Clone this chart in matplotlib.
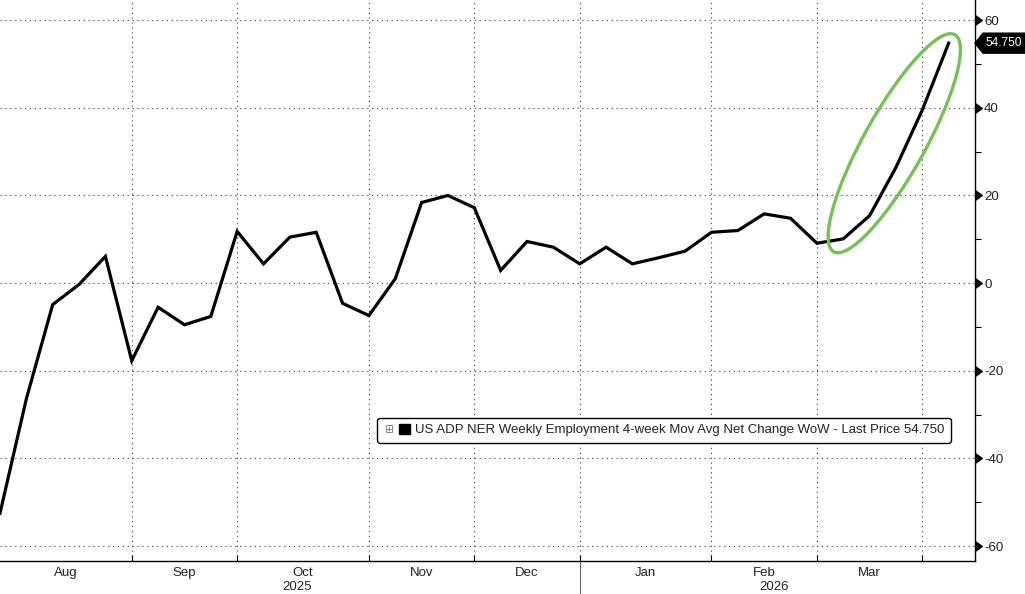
import numpy as np
import pandas as pd
import matplotlib
matplotlib.use("Agg")
import matplotlib.pyplot as plt
import matplotlib.dates as mdates
import matplotlib.markers as mmarkers
from matplotlib import font_manager
from matplotlib.patches import Ellipse, Rectangle, Polygon
from matplotlib.lines import Line2D
from matplotlib.legend_handler import HandlerBase
from matplotlib.transforms import IdentityTransform

# weekly US ADP NER, 4-week moving average net change (thousands)
start_date = "2025-08-01"
values = [-52.5, -26.4, -4.9, -0.3, 6.1, -17.7, -5.5, -9.5, -7.6, 11.8,
          4.4, 10.5, 11.6, -4.6, -7.4, 1.0, 18.4, 20.0, 17.2, 2.9,
          9.5, 8.2, 4.4, 8.2, 4.4, 5.8, 7.3, 11.6, 12.0, 15.8,
          14.8, 9.1, 10.1, 15.4, 26.4, 39.5, 54.75]
y_ticks = [-60, -40, -20, 0, 20, 40, 60]
series_label = "US ADP NER Weekly Employment 4-week Mov Avg Net Change WoW - Last Price 54.750"
last_label = "54.750"

dates = pd.date_range(start_date, periods=len(values), freq="7D")
x = mdates.date2num(dates)

installed = {f.name for f in font_manager.fontManager.ttflist}
base_font = "Liberation Sans Narrow" if "Liberation Sans Narrow" in installed else "Liberation Sans"
plt.rcParams["font.family"] = [base_font, "DejaVu Sans"]
plt.rcParams["axes.unicode_minus"] = False

txt_color = "#222222"
grid_kw = dict(color="#555555", linestyle=(0, (1.2, 3.2)), linewidth=0.8)

fig = plt.figure(figsize=(10.25, 5.94), dpi=100)
ax = fig.add_axes([0, 1 - 561 / 594, 975 / 1025, 561 / 594])

line, = ax.plot(x, values, color="black", lw=2.3, solid_joinstyle="miter", zorder=3)

x_left, x_right = x[0], x[-1] + 7
ax.set_xlim(x_left, x_right)
ax.set_ylim(-63.4, 64.6)

# month boundaries = first observation of each month
months = dates.to_period("M")
first_idx = [i for i in range(1, len(dates)) if months[i] != months[i - 1]]
bounds = [x[i] for i in first_idx]
ax.set_xticks(bounds)
ax.set_xticklabels([])
ax.tick_params(axis="x", which="major", direction="in", length=4, width=0.8, color="black")

edges = [x_left] + bounds + [x_right]
seg_months = [months[0]] + [months[i] for i in first_idx]
centers, mlabels = [], []
for k in range(len(edges) - 1):
    if edges[k + 1] - edges[k] >= 21:
        centers.append((edges[k] + edges[k + 1]) / 2)
        mlabels.append(seg_months[k].strftime("%b"))
ax.set_xticks(centers, minor=True)
ax.set_xticklabels(mlabels, minor=True)
ax.tick_params(axis="x", which="minor", length=0, pad=4, labelsize=9.5, labelcolor=txt_color)

# years
xt = ax.get_xaxis_transform()
jan_idx = [i for i in range(1, len(dates)) if dates[i].year != dates[i - 1].year][0]
ax.plot([x[jan_idx], x[jan_idx]], [0, -0.07], transform=xt, clip_on=False,
        color="#666666", lw=0.8)
ax.text((x_left + x[jan_idx]) / 2 + 2, -0.047, str(dates[0].year), transform=xt,
        ha="center", va="center", fontsize=9.5, color=txt_color)
ax.text((x[jan_idx] + x_right) / 2 - 1, -0.047, str(dates[-1].year), transform=xt,
        ha="center", va="center", fontsize=9.5, color=txt_color)

# y axis on the right
ax.yaxis.tick_right()
ax.set_yticks(y_ticks)
ax.set_yticks([(a + b) / 2 for a, b in zip(y_ticks[:-1], y_ticks[1:])], minor=True)
ax.tick_params(axis="y", which="major", labelsize=9.5, labelcolor=txt_color, pad=3)
ax.tick_params(axis="y", which="minor", direction="out", length=4, width=0.8, color="black")
for t in ax.yaxis.get_major_ticks():
    t.tick2line.set_marker(mmarkers.CARETRIGHTBASE)
    t.tick2line.set_markersize(6.5)
    t.tick2line.set_color("black")

ax.grid(True, axis="both", which="major", **grid_kw)
ax.set_axisbelow(True)
for s in ["top", "left"]:
    ax.spines[s].set_visible(False)
for s in ["bottom", "right"]:
    ax.spines[s].set_linewidth(1.0)
    ax.spines[s].set_color("black")


class PlusSquareHandler(HandlerBase):
    def create_artists(self, legend, orig_handle, xdescent, ydescent,
                       width, height, fontsize, trans):
        cy = height / 2 - ydescent
        s1 = 0.5 * fontsize
        x1 = -xdescent + 0.08 * width
        box = Rectangle((x1, cy - s1 / 2), s1, s1, fill=False, ec="#777777",
                        lw=0.6, transform=trans)
        h = Line2D([x1 + 0.25 * s1, x1 + 0.75 * s1], [cy, cy], color="#777777",
                   lw=0.6, transform=trans)
        v = Line2D([x1 + s1 / 2, x1 + s1 / 2], [cy - 0.25 * s1, cy + 0.25 * s1],
                   color="#777777", lw=0.6, transform=trans)
        s2 = 0.8 * fontsize
        sq = Rectangle((-xdescent + width - s2, cy - s2 / 2), s2, s2, fc="black",
                       ec="black", transform=trans)
        return [box, h, v, sq]


leg = ax.legend([line], [series_label], handler_map={line: PlusSquareHandler()},
                loc="lower left", bbox_to_anchor=(377 / 975, (561 - 443) / 561),
                borderaxespad=0, fontsize=9.5, handlelength=2.0, handletextpad=0.35,
                borderpad=0.5, frameon=True, fancybox=True, framealpha=1,
                facecolor="white", edgecolor="black", labelcolor=txt_color)
leg.get_frame().set_linewidth(1.0)

# green ellipse around the latest surge, built from the data in display space
p0 = ax.transData.transform((x[-6], values[-6]))
p1 = ax.transData.transform((x[-1], values[-1]))
mid = (p0 + p1) / 2 + np.array([11.5, 0])
d = p1 - p0
ang = np.degrees(np.arctan2(d[1], d[0])) + 4.2
length = np.hypot(d[0], d[1]) + 9
ell = Ellipse(mid, length, 61, angle=ang, fill=False, ec="#72c256", lw=2.4,
              transform=IdentityTransform(), zorder=4)
fig.add_artist(ell)

# last price tag on the right axis
xs, ys = ax.transAxes.transform((1, 0))[0], ax.transData.transform((x[-1], values[-1]))[1]
tag = Polygon([(xs, ys), (xs + 8, ys + 10), (xs + 60, ys + 10), (xs + 60, ys - 10),
               (xs + 8, ys - 10)], closed=True, fc="black", ec="black",
              transform=IdentityTransform(), clip_on=False)
fig.add_artist(tag)
fig.text((xs + 10) / fig.bbox.width, ys / fig.bbox.height, last_label, color="white",
         fontsize=8.6, ha="left", va="center")

fig.savefig("out.png", dpi=100)
